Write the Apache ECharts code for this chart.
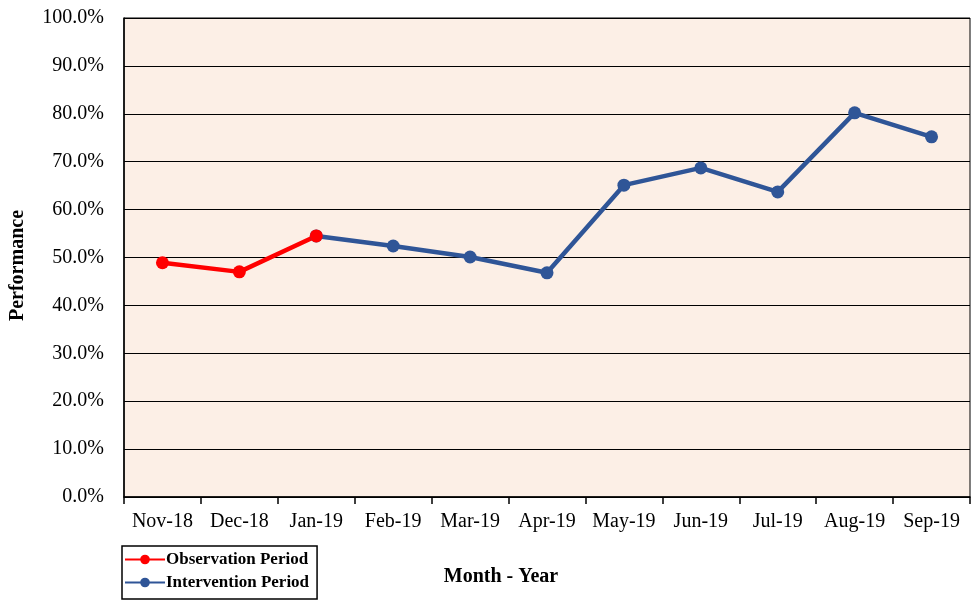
<!DOCTYPE html>
<html>
<head>
<meta charset="utf-8">
<script src="https://cdn.jsdelivr.net/npm/echarts@6/dist/echarts.min.js"></script>
<style>
  * { margin: 0; padding: 0; }
  #main { width: 974px; height: 602px; background: #fff; }
</style>
</head>
<body>
<div id="main"></div>
<script>
// categories and values
var months = ['Nov-18', 'Dec-18', 'Jan-19', 'Feb-19', 'Mar-19', 'Apr-19', 'May-19', 'Jun-19', 'Jul-19', 'Aug-19', 'Sep-19'];
var observation = [48.9, 47.0, 54.5, null, null, null, null, null, null, null, null];
var intervention = [null, null, 54.5, 52.4, 50.1, 46.8, 65.1, 68.7, 63.7, 80.2, 75.2];

var serif = 'Liberation Serif';
var myChart = echarts.init(document.getElementById('main'));

var option = {
    animation: false,
    grid: {
        left: 119, right: 4, top: 18, bottom: 105,
        show: true,
        backgroundColor: '#fcefe6',
        borderColor: '#000',
        borderWidth: 1
    },
    legend: {
        orient: 'vertical',
        left: 122, top: 546,
        padding: [5, 8, 8, 2],
        itemGap: 6,
        itemWidth: 40,
        itemHeight: 12,
        borderColor: '#000',
        borderWidth: 1.5,
        textStyle: { fontFamily: serif, fontWeight: 'bold', fontSize: 17, color: '#000', padding: [0, 0, 0, -4] },
        data: ['Observation Period', 'Intervention Period']
    },
    xAxis: {
        type: 'category',
        data: months,
        name: 'Month - Year',
        nameLocation: 'middle',
        nameGap: 70,
        nameTextStyle: { fontFamily: serif, fontWeight: 'bold', fontSize: 20, color: '#000', padding: [0, 0, 0, -92] },
        axisLine: { lineStyle: { color: '#000', width: 1.5 } },
        axisTick: { show: true, length: 7, lineStyle: { color: '#000', width: 1.5 } },
        axisLabel: { interval: 0, fontFamily: serif, fontSize: 20, color: '#000', margin: 15 }
    },
    yAxis: {
        type: 'value',
        min: 0, max: 100, interval: 10,
        name: 'Performance',
        nameLocation: 'middle',
        nameGap: 96,
        nameTextStyle: { fontFamily: serif, fontWeight: 'bold', fontSize: 20, color: '#000', padding: [0, 16, 0, 0] },
        axisLine: { show: true, lineStyle: { color: '#000', width: 1.5 } },
        axisTick: { show: false },
        axisLabel: {
            fontFamily: serif, fontSize: 20, color: '#000', margin: 20,
            formatter: function (v) { return v.toFixed(1) + '%'; }
        },
        splitLine: { lineStyle: { color: '#000', width: 1.2 } }
    },
    series: [{
        name: 'Intervention Period',
        type: 'line',
        data: intervention,
        symbol: 'circle',
        symbolSize: 13,
        itemStyle: { color: '#2f5597' },
        lineStyle: { width: 4.5, color: '#2f5597' }
    }, {
        name: 'Observation Period',
        type: 'line',
        data: observation,
        symbol: 'circle',
        symbolSize: 13,
        itemStyle: { color: '#ff0000' },
        lineStyle: { width: 4.5, color: '#ff0000' }
    }]
};

myChart.setOption(option);
</script>
</body>
</html>
